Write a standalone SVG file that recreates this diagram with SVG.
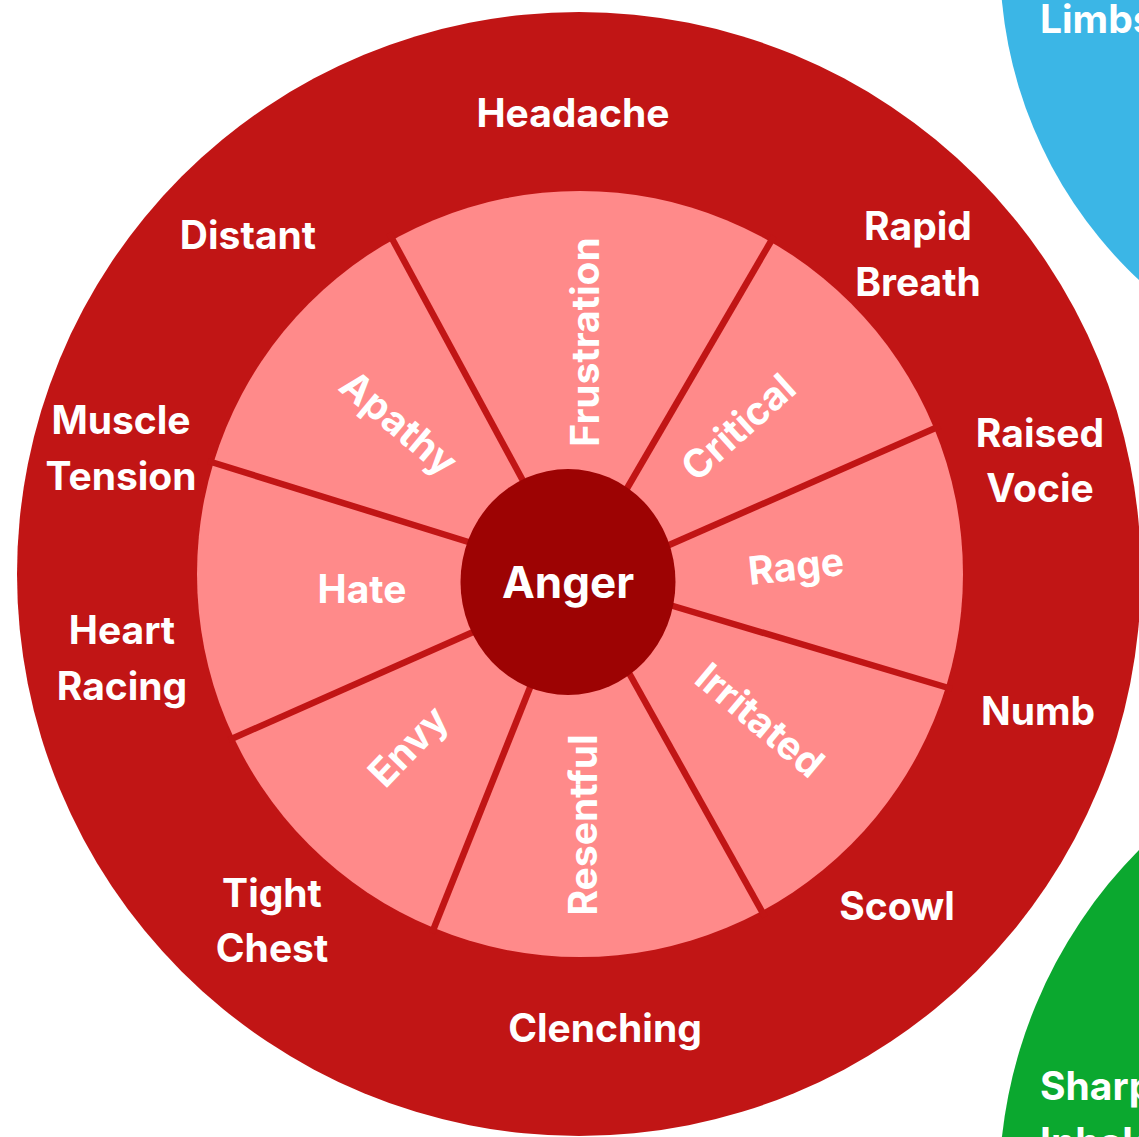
<svg xmlns="http://www.w3.org/2000/svg" width="1139" height="1137" viewBox="0 0 1139 1137">
  <style>
    text { font-family: "Inter", "Open Sans", "Liberation Sans", sans-serif; font-weight: 700; fill: #ffffff; text-anchor: middle; }
    .lbl { font-size: 39px; }
    .inner { font-size: 39px; }
    .core { font-size: 44px; }
    .side { text-anchor: start; font-size: 39px; }
    .div { stroke: #c11515; stroke-width: 6.5; stroke-linecap: butt; }
  </style>
  <rect x="0" y="0" width="1139" height="1137" fill="#ffffff"/>

  <g id="blue-wheel">
    <circle cx="1438" cy="-40" r="438" fill="#3bb6e6"/>
    <text class="side" x="1040" y="33">Limbs</text>
  </g>
  <g id="green-wheel">
    <circle cx="1482" cy="1190" r="483" fill="#0ba82f"/>
    <text class="side" x="1040" y="1100">Sharp</text>
    <text class="side" x="1040" y="1156">Inhale</text>
  </g>

  <g id="outer-ring">
    <circle cx="579" cy="574" r="562" fill="#c11515"/>
  </g>
  <g id="inner-ring">
    <circle cx="580" cy="574" r="383" fill="#ff8a8a"/>
  </g>

  <g id="connectors">
    <line class="div" x1="528" y1="490" x2="389" y2="233"/>
    <line class="div" x1="622" y1="497" x2="774" y2="236"/>
    <line class="div" x1="660" y1="549" x2="940" y2="426"/>
    <line class="div" x1="663" y1="603" x2="952" y2="689"/>
    <line class="div" x1="624" y1="664" x2="765" y2="917"/>
    <line class="div" x1="535" y1="675" x2="432" y2="933"/>
    <line class="div" x1="480" y1="629" x2="229" y2="740"/>
    <line class="div" x1="478" y1="545" x2="208" y2="461"/>
  </g>

  <g id="anger">
    <ellipse cx="568" cy="582" rx="107.5" ry="113" fill="#9d0303"/>
    <text class="core" x="568" y="598">Anger</text>
  </g>

  <g id="frustration"><text class="inner" transform="translate(585,342) rotate(-90)" x="0" y="14">Frustration</text></g>
  <g id="critical"><text class="inner" transform="translate(738,427) rotate(-42)" x="0" y="14">Critical</text></g>
  <g id="rage"><text class="inner" transform="translate(796,566) rotate(-6)" x="0" y="14">Rage</text></g>
  <g id="irritated"><text class="inner" transform="translate(760,720) rotate(40)" x="0" y="14">Irritated</text></g>
  <g id="resentful"><text class="inner" transform="translate(583,825) rotate(-90)" x="0" y="14">Resentful</text></g>
  <g id="envy"><text class="inner" transform="translate(408,746) rotate(-46)" x="0" y="14">Envy</text></g>
  <g id="hate"><text class="inner" x="362" y="603">Hate</text></g>
  <g id="apathy"><text class="inner" transform="translate(399,423) rotate(40)" x="0" y="14">Apathy</text></g>

  <g id="headache"><text class="lbl" x="573" y="127">Headache</text></g>
  <g id="rapid-breath"><text class="lbl" x="918" y="240">Rapid</text><text class="lbl" x="918" y="296">Breath</text></g>
  <g id="raised-vocie"><text class="lbl" x="1040" y="447">Raised</text><text class="lbl" x="1040" y="502">Vocie</text></g>
  <g id="numb"><text class="lbl" x="1038" y="725">Numb</text></g>
  <g id="scowl"><text class="lbl" x="897" y="920">Scowl</text></g>
  <g id="clenching"><text class="lbl" x="605" y="1042">Clenching</text></g>
  <g id="tight-chest"><text class="lbl" x="272" y="907">Tight</text><text class="lbl" x="272" y="962">Chest</text></g>
  <g id="heart-racing"><text class="lbl" x="122" y="644">Heart</text><text class="lbl" x="122" y="700">Racing</text></g>
  <g id="muscle-tension"><text class="lbl" x="121" y="434">Muscle</text><text class="lbl" x="121" y="490">Tension</text></g>
  <g id="distant"><text class="lbl" x="248" y="249">Distant</text></g>
</svg>
